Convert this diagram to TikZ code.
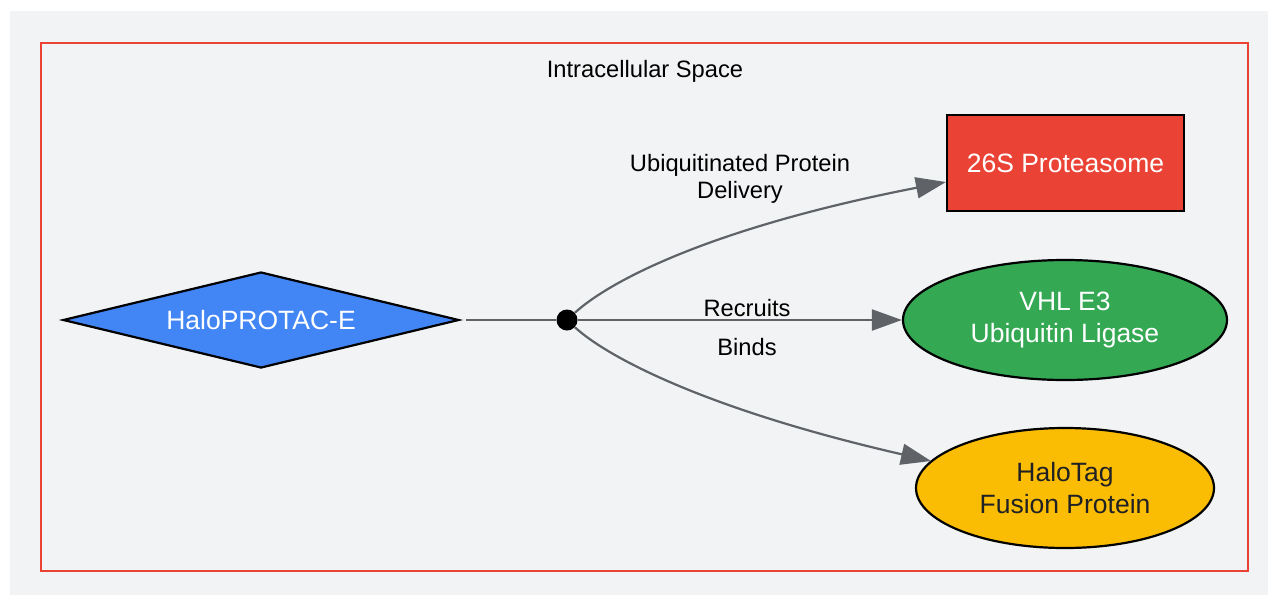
\documentclass[tikz,border=0pt]{standalone}
\usepackage{fontspec}
\setmainfont{Liberation Sans}
\usetikzlibrary{shapes.geometric,arrows.meta}
\definecolor{bggray}{HTML}{F1F3F4}
\definecolor{gred}{HTML}{EA4335}
\definecolor{gblue}{HTML}{4285F4}
\definecolor{ggreen}{HTML}{34A853}
\definecolor{gyellow}{HTML}{FBBC04}
\definecolor{edgegray}{HTML}{5F6368}
\definecolor{darktext}{HTML}{202124}
\tikzset{
  nodetext/.style={font=\fontsize{26.5}{32}\selectfont, align=center, inner sep=0pt},
  shapeborder/.style={draw=black, line width=2.2pt},
  lbl/.style={font=\fontsize{23.7}{26.7}\selectfont, align=center, inner sep=0pt, text=black},
  conn/.style={draw=edgegray, line width=2.2pt, -{Triangle[length=30pt,width=21pt]}},
}
\begin{document}
\begin{tikzpicture}[x=1pt,y=-1pt]
\useasboundingbox (0,0) rectangle (1268,595);
\fill[bggray] (10,11) rectangle (1268,595);
\draw[gred, line width=2pt] (41,43) rectangle (1248,571);
\node[lbl] (cluster) at (645,71) {Intracellular Space};

\node[nodetext, shapeborder, shape=diamond, fill=gblue, text=white,
      minimum width=396pt, minimum height=96pt, aspect=4.125] (halo) at (261,320) {HaloPROTAC-E};
\node[nodetext, shapeborder, rectangle, fill=gred, text=white,
      minimum width=237pt, minimum height=96pt] (prot) at (1065.5,163) {26S Proteasome};
\node[nodetext, shapeborder, ellipse, fill=ggreen, text=white,
      minimum width=324pt, minimum height=120pt] (vhl) at (1065,320) {VHL E3\\Ubiquitin Ligase};
\node[nodetext, shapeborder, ellipse, fill=gyellow, text=darktext,
      minimum width=298pt, minimum height=120pt] (tag) at (1065,488) {HaloTag\\Fusion Protein};

\node[circle, fill=black, minimum size=21pt, inner sep=0pt] (dot) at (567,320) {};

\draw[draw=edgegray, line width=2.2pt, shorten <=6pt] (halo.east) -- (dot);
\draw[conn] (dot) .. controls (605,285) and (700,230) .. (prot.west |- 0,182);
\draw[conn] (dot) -- (vhl.west);
\draw[conn] (dot) .. controls (605,355) and (700,408) .. (931,461);

\node[lbl] (l1) at (740,179) {Ubiquitinated Protein\\Delivery};
\node[lbl] (l2) at (747,308) {Recruits};
\node[lbl] (l3) at (747,347) {Binds};
\end{tikzpicture}
\end{document}
